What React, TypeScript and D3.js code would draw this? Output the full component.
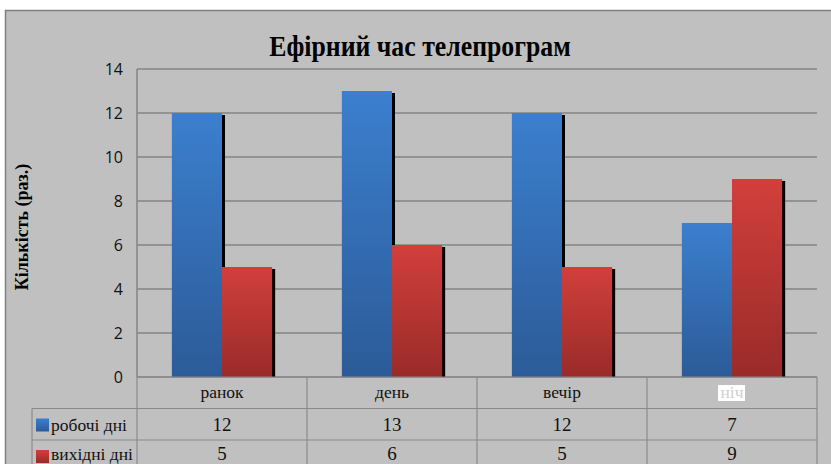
import React, { useEffect, useRef } from 'react';
import * as d3 from 'd3';

const categories = ['ранок', 'день', 'вечір', 'ніч'];
const seriesNames = ['робочі дні', 'вихідні дні'];
const workdays = [12, 13, 12, 7];
const weekends = [5, 6, 5, 9];
const yTicks = [0, 2, 4, 6, 8, 10, 12, 14];

const App: React.FC = () => {
  const svgRef = useRef<SVGSVGElement>(null);

  useEffect(() => {
    if (!svgRef.current) return;
    const width = 831;
    const height = 464;
    const svg = d3.select(svgRef.current).attr('width', width).attr('height', height);
    svg.selectAll('*').remove();

    const left = 137;
    const right = 817;
    const top = 69;
    const bottom = 377;
    const seriesData = [workdays, weekends];

    // gradients for the bars
    const defs = svg.append('defs');
    const grads = [
      { id: 'gBlue', top: '#3b7fce', bottom: '#2c5b98' },
      { id: 'gRed', top: '#d23f3b', bottom: '#992b29' },
    ];
    grads.forEach((g) => {
      const lg = defs
        .append('linearGradient')
        .attr('id', g.id)
        .attr('x1', 0)
        .attr('y1', 0)
        .attr('x2', 0)
        .attr('y2', 1);
      lg.append('stop').attr('offset', '0%').attr('stop-color', g.top);
      lg.append('stop').attr('offset', '100%').attr('stop-color', g.bottom);
    });

    // background
    svg.append('rect').attr('width', width).attr('height', height).attr('fill', '#ffffff');
    svg
      .append('rect')
      .attr('x', 5.5)
      .attr('y', 10.5)
      .attr('width', width + 10)
      .attr('height', height)
      .attr('fill', '#c0c0c0')
      .attr('stroke', '#7f7f7f')
      .attr('stroke-width', 1.5);

    const x = d3.scaleBand<string>().domain(categories).range([left, right]).paddingInner(0.41).paddingOuter(0.205);
    const xs = d3.scaleBand<number>().domain([0, 1]).range([0, x.bandwidth()]);
    const y = d3.scaleLinear().domain([0, 14]).range([bottom, top]);

    // grid
    svg
      .append('g')
      .selectAll('line')
      .data(yTicks)
      .enter()
      .append('line')
      .attr('x1', left)
      .attr('x2', right)
      .attr('y1', (d) => y(d))
      .attr('y2', (d) => y(d))
      .attr('stroke', '#858585')
      .attr('stroke-width', 1.5);

    svg
      .append('line')
      .attr('x1', left)
      .attr('x2', left)
      .attr('y1', top)
      .attr('y2', bottom)
      .attr('stroke', '#858585')
      .attr('stroke-width', 1.5);

    // tick labels
    svg
      .append('g')
      .selectAll('text')
      .data(yTicks)
      .enter()
      .append('text')
      .attr('x', 123)
      .attr('y', (d) => y(d))
      .attr('dy', '0.36em')
      .attr('text-anchor', 'end')
      .attr('font-family', '"Open Sans", sans-serif')
      .attr('font-size', 16)
      .attr('fill', '#111')
      .text((d) => d);

    // shadows, then bars
    const barG = svg.append('g');
    seriesData.forEach((vals, si) => {
      barG
        .selectAll(`rect.sh${si}`)
        .data(vals)
        .enter()
        .append('rect')
        .attr('x', (d, i) => (x(categories[i]) as number) + (xs(si) as number) + 3)
        .attr('y', (d) => y(d) + 2)
        .attr('width', xs.bandwidth())
        .attr('height', (d) => bottom - y(d) - 2)
        .attr('fill', '#000');
    });
    seriesData.forEach((vals, si) => {
      barG
        .selectAll(`rect.b${si}`)
        .data(vals)
        .enter()
        .append('rect')
        .attr('x', (d, i) => (x(categories[i]) as number) + (xs(si) as number))
        .attr('y', (d) => y(d))
        .attr('width', xs.bandwidth())
        .attr('height', (d) => bottom - y(d))
        .attr('fill', `url(#${grads[si].id})`);
    });

    // data table
    const rowH = 31.5;
    const tbl = svg.append('g').attr('stroke', '#8a8a8a').attr('stroke-width', 1.2);
    const colEdges = [left, ...categories.map((c) => (x(c) as number) - x.step() * 0.41 / 2 + x.step())];
    colEdges.forEach((cx) => {
      tbl.append('line').attr('x1', cx).attr('x2', cx).attr('y1', bottom).attr('y2', height);
    });
    tbl.append('line').attr('x1', left).attr('x2', right).attr('y1', bottom).attr('y2', bottom);
    [1, 2].forEach((r) => {
      tbl
        .append('line')
        .attr('x1', 32)
        .attr('x2', right)
        .attr('y1', bottom + r * rowH)
        .attr('y2', bottom + r * rowH);
    });
    tbl.append('line').attr('x1', 32).attr('x2', 32).attr('y1', bottom + rowH).attr('y2', height);

    const serif = '"Liberation Serif", serif';
    categories.forEach((c, i) => {
      const cx = (x(c) as number) + x.bandwidth() / 2;
      if (i === 3) {
        svg
          .append('rect')
          .attr('x', cx - 14)
          .attr('y', bottom + 8)
          .attr('width', 27)
          .attr('height', 16)
          .attr('fill', '#ffffff');
      }
      svg
        .append('text')
        .attr('x', cx)
        .attr('y', bottom + 21)
        .attr('text-anchor', 'middle')
        .attr('font-family', serif)
        .attr('font-size', 17.5)
        .attr('fill', i === 3 ? '#cfcfcf' : '#111')
        .text(c);
      seriesData.forEach((vals, si) => {
        svg
          .append('text')
          .attr('x', cx)
          .attr('y', bottom + rowH * (si + 1) + 22 - si * 2)
          .attr('text-anchor', 'middle')
          .attr('font-family', serif)
          .attr('font-size', 19)
          .attr('fill', '#111')
          .text(vals[i]);
      });
    });

    seriesNames.forEach((s, si) => {
      const ry = bottom + rowH * (si + 1);
      svg
        .append('rect')
        .attr('x', 36)
        .attr('y', ry + 10)
        .attr('width', 13)
        .attr('height', 13)
        .attr('fill', `url(#${grads[si].id})`);
      svg
        .append('text')
        .attr('x', 51)
        .attr('y', ry + 22 - si * 2)
        .attr('font-family', serif)
        .attr('font-size', 17.5)
        .attr('fill', '#111')
        .text(s);
    });

    // title (condensed bold serif)
    svg
      .append('text')
      .attr('transform', 'translate(420,56) scale(0.86,1)')
      .attr('text-anchor', 'middle')
      .attr('font-family', serif)
      .attr('font-weight', 'bold')
      .attr('font-size', 30)
      .attr('fill', '#000')
      .text('Ефірний час телепрограм');

    // y axis label
    svg
      .append('text')
      .attr('transform', 'translate(28,227) rotate(-90)')
      .attr('text-anchor', 'middle')
      .attr('font-family', serif)
      .attr('font-weight', 'bold')
      .attr('font-size', 18)
      .attr('fill', '#000')
      .text('Кількість (раз.)');
  }, []);

  return (
    <div style={{ position: 'absolute', left: 0, top: 0 }}>
      <svg ref={svgRef} style={{ display: 'block' }} />
    </div>
  );
};

export default App;
